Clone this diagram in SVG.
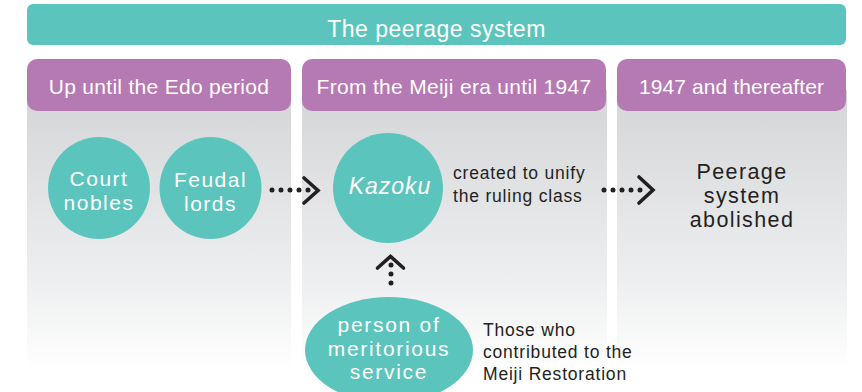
<svg xmlns="http://www.w3.org/2000/svg" width="862" height="392" viewBox="0 0 862 392">
<defs>
<linearGradient id="pg" x1="0" y1="0" x2="0" y2="1">
<stop offset="0" stop-color="#d4d5d7"/>
<stop offset="0.7" stop-color="#eeeff0"/>
<stop offset="1" stop-color="#ffffff"/>
</linearGradient>
<style>
.t{font-family:"Liberation Sans",Arial,sans-serif}
.w{fill:#ffffff}
.d{fill:#231f20}
.teal{fill:#5bc5bd}
.hd{fill:#b57ab4}
.dots{fill:none;stroke:#231f20;stroke-width:5;stroke-linecap:round;stroke-dasharray:0 9}
.chev{fill:none;stroke:#231f20;stroke-width:3.6;stroke-linecap:round;stroke-linejoin:miter}
</style>
</defs>
<rect width="862" height="392" fill="#ffffff"/>
<g id="panels">
<rect x="27" y="90" width="264" height="278" fill="url(#pg)"/>
<rect x="302" y="90" width="305" height="278" fill="url(#pg)"/>
<rect x="617" y="90" width="230" height="278" fill="url(#pg)"/>
</g>
<g id="title">
<rect class="teal" x="27" y="4" width="819" height="41" rx="6"/>
<text class="t w" x="436.5" y="37" font-size="23" letter-spacing="0.5" text-anchor="middle">The peerage system</text>
</g>
<g id="header1">
<rect class="hd" x="27" y="59" width="264" height="52" rx="10"/>
<text class="t w" x="159" y="94" font-size="21" letter-spacing="0.3" text-anchor="middle">Up until the Edo period</text>
</g>
<g id="header2">
<rect class="hd" x="302" y="59" width="304" height="52" rx="10"/>
<text class="t w" x="454" y="94" font-size="21" letter-spacing="0.3" text-anchor="middle">From the Meiji era until 1947</text>
</g>
<g id="header3">
<rect class="hd" x="617" y="59" width="229" height="52" rx="10"/>
<text class="t w" x="731.5" y="94" font-size="21" letter-spacing="0.1" text-anchor="middle">1947 and thereafter</text>
</g>
<g id="court-nobles">
<circle class="teal" cx="99" cy="188" r="51"/>
<text class="t w" font-size="21" letter-spacing="1.5" text-anchor="middle"><tspan x="99" y="186">Court</tspan><tspan x="99" y="209.5">nobles</tspan></text>
</g>
<g id="feudal-lords">
<circle class="teal" cx="210.5" cy="188" r="51"/>
<text class="t w" font-size="21" letter-spacing="1.5" text-anchor="middle"><tspan x="210.5" y="187">Feudal</tspan><tspan x="210.5" y="210.5">lords</tspan></text>
</g>
<g id="kazoku">
<circle class="teal" cx="388" cy="188" r="55"/>
<text class="t w" x="390" y="194" font-size="23" font-style="italic" letter-spacing="1" text-anchor="middle">Kazoku</text>
</g>
<g id="kazoku-note">
<text class="t d" font-size="17.5" letter-spacing="0.8"><tspan x="453" y="179">created to unify</tspan><tspan x="453" y="202">the ruling class</tspan></text>
</g>
<g id="abolished">
<text class="t d" font-size="21.5" letter-spacing="1.4" text-anchor="middle"><tspan x="742" y="179">Peerage</tspan><tspan x="742" y="203">system</tspan><tspan x="742" y="227">abolished</tspan></text>
</g>
<g id="meritorious">
<ellipse class="teal" cx="389" cy="350" rx="84" ry="53"/>
<text class="t w" font-size="21" letter-spacing="1.7" text-anchor="middle"><tspan x="389" y="332">person of</tspan><tspan x="389" y="355.5">meritorious</tspan><tspan x="389" y="379">service</tspan></text>
</g>
<g id="meritorious-note">
<text class="t d" font-size="17.5" letter-spacing="0.8"><tspan x="483" y="336">Those who</tspan><tspan x="483" y="358">contributed to the</tspan><tspan x="483" y="380">Meiji Restoration</tspan></text>
</g>
<g id="connectors">
<path class="dots" d="M272 190 H309"/>
<path class="chev" d="M304 178 L318 190.5 L304 203"/>
<path class="dots" d="M604 190 H641"/>
<path class="chev" d="M639 177 L653 190 L639 203"/>
<path class="dots" d="M391 283 V264"/>
<path class="chev" d="M377.5 268 L390.5 256.5 L403.5 268"/>
</g>
</svg>
